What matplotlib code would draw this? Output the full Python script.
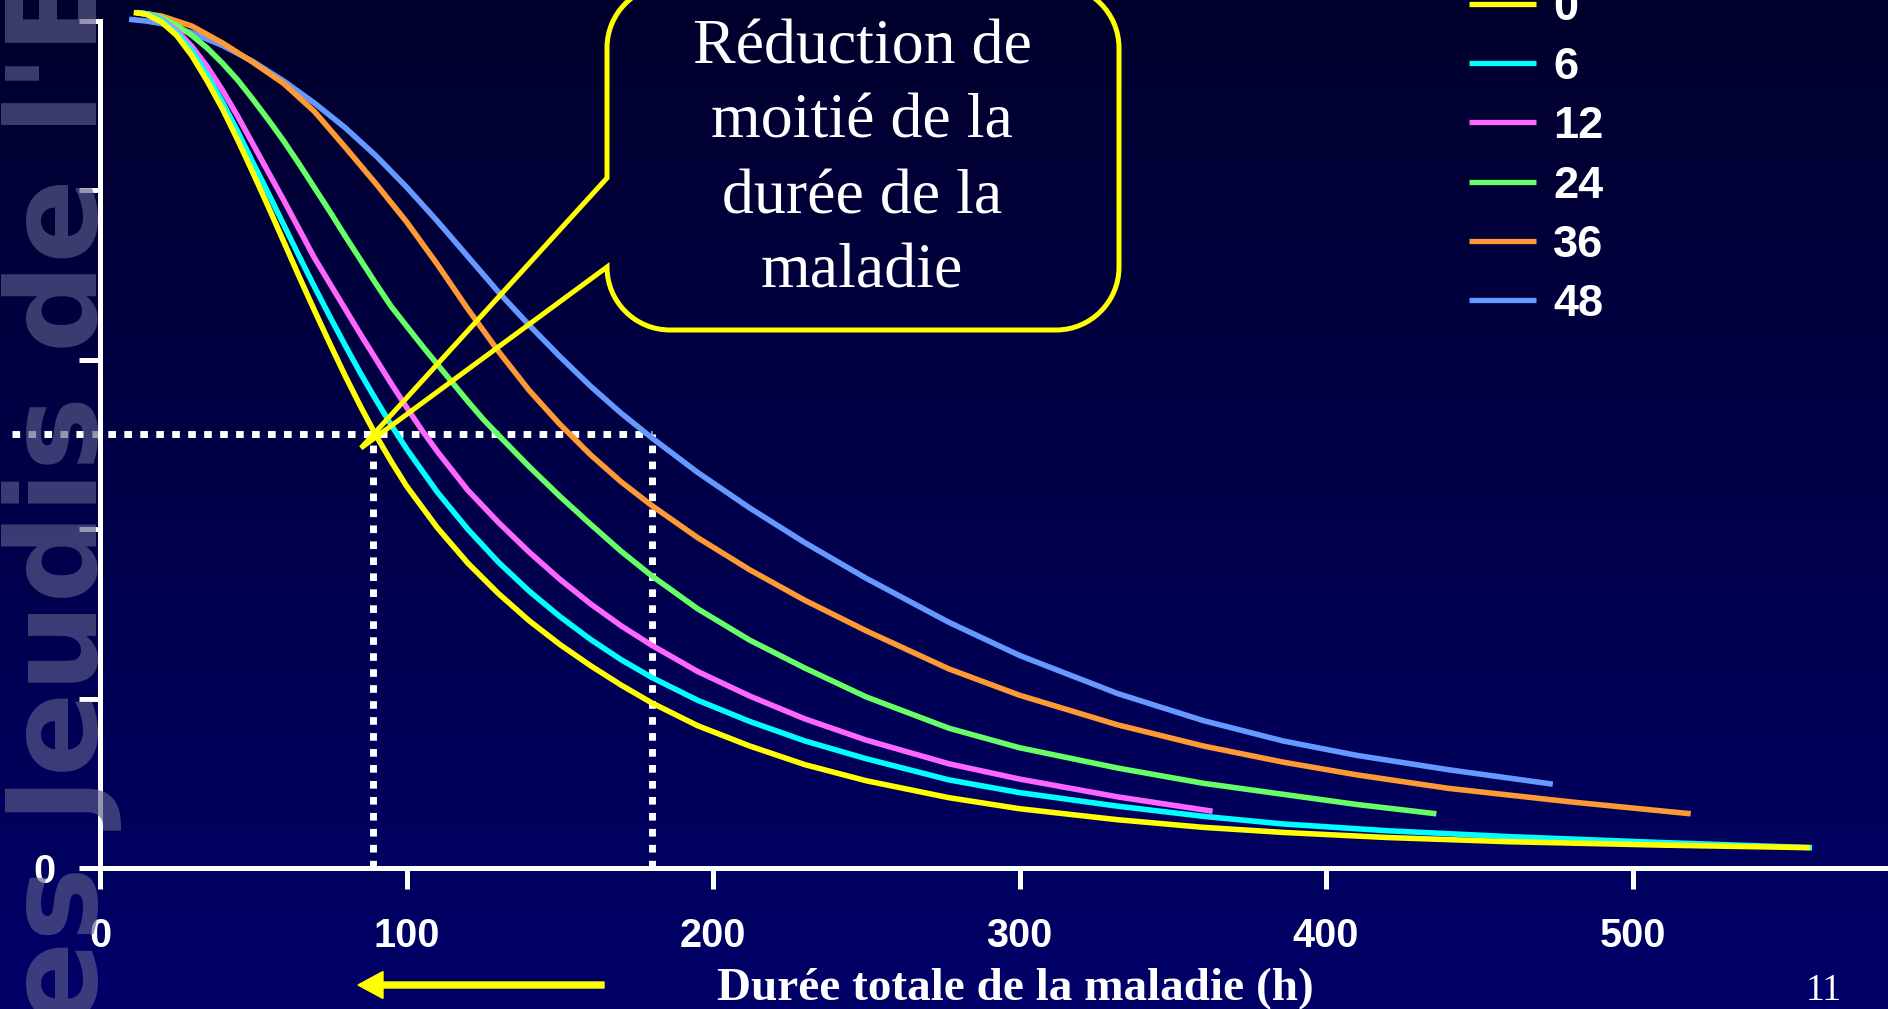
#!/usr/bin/env python
"""
Durée totale de la maladie selon le délai de traitement (courbes par délai en h)
"""
import numpy as np
import matplotlib.pyplot as plt
from matplotlib.path import Path
from matplotlib.patches import PathPatch, FancyArrow
from matplotlib.colors import LinearSegmentedColormap

plt.rcParams['font.family'] = 'Liberation Sans'

W, H = 1888, 1009

# legend labels (délai, h) and colours
delays = ['0', '6', '12', '24', '36', '48']
colors = ['#ffff00', '#00ffff', '#ff66ff', '#66ff66', '#ff9933', '#6699ff']

# curves: x = durée (h), y = % still ill
x_0 = [11, 15, 20, 25, 30, 35, 40, 45, 50, 55, 60, 65, 70, 75, 80, 85, 90, 95, 100,
       110, 120, 130, 140, 150, 160, 170, 180, 195, 212, 230, 250, 277, 300, 332,
       360, 386, 420, 460, 510, 558]
y_0 = [101, 100.8, 99.9, 98.3, 95.9, 92.9, 89.6, 85.9, 82.0, 78.0, 73.9, 69.8, 65.8,
       61.9, 58.1, 54.5, 51.1, 48.0, 45.1, 40.2, 36.0, 32.4, 29.2, 26.4, 23.9, 21.6,
       19.5, 16.8, 14.4, 12.2, 10.3, 8.3, 7.0, 5.7, 4.8, 4.2, 3.6, 3.1, 2.7, 2.4]

x_6 = [12, 16, 20, 25, 30, 35, 40, 45, 50, 55, 60, 65, 70, 75, 80, 85, 90, 95, 100,
       110, 120, 130, 140, 150, 160, 170, 180, 195, 212, 230, 250, 277, 300, 332,
       360, 386, 420, 460, 510, 558.6]
y_6 = [101, 100.8, 100.1, 98.6, 96.5, 93.6, 90.4, 86.9, 83.2, 79.6, 75.9, 72.2, 68.6,
       65.1, 61.7, 58.4, 55.3, 52.3, 49.5, 44.4, 40.0, 36.1, 32.7, 29.7, 27.0, 24.6,
       22.5, 19.8, 17.3, 15.0, 12.9, 10.4, 8.9, 7.3, 6.1, 5.2, 4.4, 3.7, 3.0, 2.4]

x_12 = [12, 16, 20, 25, 30, 35, 40, 45, 50, 55, 60, 65, 70, 75, 80, 85, 90, 95, 100,
        105, 110, 120, 130, 140, 150, 160, 170, 180, 195, 212, 230, 250, 277, 300,
        332, 363]
y_12 = [101, 100.8, 100.2, 98.9, 97.0, 94.6, 91.8, 88.7, 85.4, 82.1, 78.8, 75.4, 72.0,
        69.0, 66.0, 63.0, 60.1, 57.2, 54.4, 51.7, 49.2, 44.6, 40.8, 37.3, 34.1, 31.2,
        28.6, 26.3, 23.2, 20.3, 17.6, 15.1, 12.3, 10.5, 8.4, 6.7]

x_24 = [12, 16, 20, 25, 30, 35, 40, 45, 50, 55, 60, 65, 70, 75, 80, 85, 90, 95, 100,
        105, 110, 115, 120, 125, 130, 140, 150, 160, 170, 180, 195, 212, 230, 250,
        277, 300, 332, 360, 386, 410, 436]
y_24 = [101, 100.8, 100.4, 99.5, 98.3, 96.8, 95.0, 93.0, 90.7, 88.3, 85.8, 83.1, 80.3,
        77.5, 74.6, 71.8, 69.0, 66.3, 64.0, 61.7, 59.5, 57.3, 55.1, 53.0, 51.1, 47.4,
        43.9, 40.6, 37.4, 34.5, 30.6, 26.9, 23.6, 20.2, 16.5, 14.2, 11.8, 10.0, 8.7,
        7.5, 6.4]

x_36 = [12, 20, 30, 40, 50, 60, 70, 80, 90, 100, 110, 120, 130, 140, 150, 160, 170,
        180, 195, 212, 230, 250, 277, 300, 332, 360, 386, 410, 440, 480, 519]
y_36 = [101, 100.6, 99.4, 97.4, 95.1, 92.6, 89.3, 85.1, 80.8, 76.3, 71.3, 66.0, 61.0,
        56.4, 52.4, 48.8, 45.6, 42.8, 39.0, 35.2, 31.6, 28.0, 23.5, 20.4, 16.9, 14.4,
        12.5, 11.0, 9.4, 7.8, 6.4]

x_48 = [9.5, 15, 20, 30, 40, 50, 60, 70, 80, 90, 100, 110, 120, 130, 140, 150, 160,
        170, 180, 195, 212, 230, 250, 277, 300, 332, 360, 386, 410, 440, 474]
y_48 = [100.2, 100.0, 99.7, 98.6, 97.1, 95.2, 92.9, 90.3, 87.4, 84.1, 80.4, 76.4,
        72.2, 68.0, 64.1, 60.4, 56.9, 53.7, 50.8, 46.7, 42.5, 38.4, 34.2, 29.0, 25.1,
        20.6, 17.4, 15.0, 13.3, 11.6, 9.9]

series_x = [x_0, x_6, x_12, x_24, x_36, x_48]
series_y = [y_0, y_6, y_12, y_24, y_36, y_48]

# "réduction de moitié" guide lines
half_y = 51.2
x_short = 89
x_long = 180

x_ticks = [0, 100, 200, 300, 400, 500]
y_ticks = [0, 20, 40, 60, 80, 100]

callout_lines = ['Réduction de', 'moitié de la', 'durée de la', 'maladie']
xlabel = 'Durée totale de la maladie (h)'
page_no = '11'
watermark = "Les Jeudis de l'Europe"

fig = plt.figure(figsize=(W / 100, H / 100), dpi=100)

# background gradient
bg = fig.add_axes([0, 0, 1, 1], zorder=0)
cmap = LinearSegmentedColormap.from_list('navy', ['#00002c', '#000068'])
bg.imshow(np.linspace(0, 1, 256).reshape(-1, 1), aspect='auto', cmap=cmap,
          extent=[0, 1, 0, 1], origin='upper')
bg.set_xlim(0, 1)
bg.set_ylim(0, 1)
bg.axis('off')

# data axes
px_per_h = 3.065
ax = fig.add_axes([100 / W, (H - 868) / H, (W - 100) / W, (868 - 21) / H], zorder=1)
ax.set_facecolor('none')
ax.set_xlim(0, (W - 100) / px_per_h)
ax.set_ylim(0, 100)

dots = dict(color='white', linewidth=5, linestyle=(0, (1.1, 1.2)),
            dash_capstyle='butt', clip_on=False)
ax.plot([-28.7, x_long], [half_y, half_y], **dots)
ax.plot([x_short, x_short], [0, half_y], **dots)
ax.plot([x_long, x_long], [0, half_y], **dots)

for xs, ys, c in reversed(list(zip(series_x, series_y, colors))):
  ax.plot(xs, ys, '-', color=c, linewidth=4.0, clip_on=False,
          solid_capstyle='butt', solid_joinstyle='round')

for s in ['top', 'right']:
  ax.spines[s].set_visible(False)
for s in ['left', 'bottom']:
  ax.spines[s].set_color('white')
  ax.spines[s].set_linewidth(3.6)

ax.set_xticks(x_ticks)
ax.set_xticklabels([str(t) for t in x_ticks], fontweight='bold')
ax.set_yticks(y_ticks)
ax.set_yticklabels(['0'] + [''] * (len(y_ticks) - 1), fontweight='bold')
ax.tick_params(colors='white', width=3.6, length=15, direction='out', labelsize=28.5)
ax.tick_params(axis='x', pad=20)
ax.tick_params(axis='y', pad=17)

# foreground overlay in pixel coordinates (y down)
fg = fig.add_axes([0, 0, 1, 1], zorder=3)
fg.set_facecolor('none')
fg.set_xlim(0, W)
fg.set_ylim(H, 0)
fg.axis('off')

# callout bubble
L, R, T, B, r = 607, 1119, -15, 330, 63
k = 0.5523 * r
tip = (361, 448)
verts = [(L + r, T), (R - r, T),
         (R - r + k, T), (R, T + r - k), (R, T + r),
         (R, B - r),
         (R, B - r + k), (R - r + k, B), (R - r, B),
         (L + r, B),
         (L + r - k, B), (L, B - r + k), (L, B - r),
         (L, 267), tip, (L, 178), (L, T + r),
         (L, T + r - k), (L + r - k, T), (L + r, T),
         (L + r, T)]
codes = ([Path.MOVETO, Path.LINETO] + [Path.CURVE4] * 3 + [Path.LINETO]
         + [Path.CURVE4] * 3 + [Path.LINETO] + [Path.CURVE4] * 3
         + [Path.LINETO] * 4 + [Path.CURVE4] * 3 + [Path.CLOSEPOLY])
fg.add_patch(PathPatch(Path(verts, codes), fill=False, edgecolor='#ffff00',
                       linewidth=3.6, joinstyle='miter', clip_on=False))
for line, yb in zip(callout_lines, [63, 137, 213, 288]):
  fg.text(862, yb, line, ha='center', va='baseline', color='white',
          family='Liberation Serif', fontsize=46)

# legend
for i, (lab, c) in enumerate(zip(delays, colors)):
  yy = 4 + 59.2 * i
  fg.plot([1469, 1536], [yy, yy], color=c, linewidth=3.8, solid_capstyle='butt')
  fg.text(1553, yy + 16, lab, ha='left', va='baseline', color='white',
          fontweight='bold', fontsize=32.5)

# axis title, arrow, page number
fg.text(1015, 1000, xlabel, ha='center', va='baseline', color='white',
        family='Liberation Serif', fontweight='bold', fontsize=34)
fg.add_patch(FancyArrow(604, 985, -246, 0, width=6, head_width=27, head_length=25,
                        length_includes_head=True, color='#ffff00'))
fg.text(1824, 1000, page_no, ha='center', va='baseline', color='white',
        family='Liberation Serif', fontsize=27)

# watermark
fg.text(97, 1105, watermark, rotation=90, rotation_mode='anchor', ha='left',
        va='baseline', family='DejaVu Sans', fontweight='bold', fontsize=90,
        color='#5c5c8c', alpha=0.65, clip_on=False)

plt.savefig('out.png', dpi=100)
